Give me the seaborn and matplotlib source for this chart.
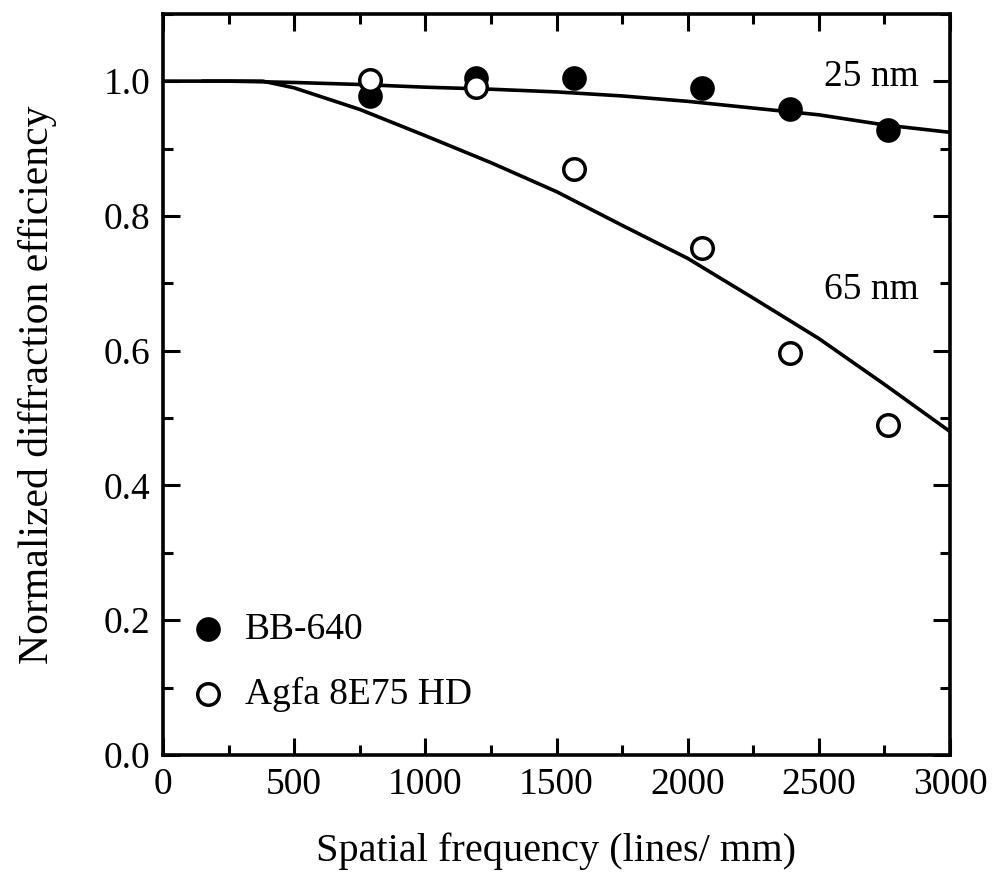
import matplotlib
matplotlib.use('Agg')
import matplotlib.pyplot as plt
import seaborn as sns
from matplotlib.ticker import MultipleLocator, FormatStrFormatter

# measured points
freq_pts = [790, 1195, 1565, 2055, 2390, 2765]
bb640 = [0.978, 1.005, 1.005, 0.990, 0.958, 0.927]
agfa = [1.001, 0.991, 0.869, 0.752, 0.596, 0.489]

# model curves
freq_25 = [0, 250, 500, 750, 1000, 1250, 1500, 1750, 2000, 2250, 2500, 2750, 3000]
eff_25 = [1.0, 1.0, 0.998, 0.995, 0.991, 0.988, 0.984, 0.978, 0.970, 0.960, 0.950, 0.935, 0.924]
freq_65 = [150, 250, 380, 500, 750, 1000, 1250, 1500, 1750, 2000, 2250, 2500, 2750, 3000]
eff_65 = [1.0, 1.0, 1.0, 0.99, 0.958, 0.919, 0.879, 0.836, 0.786, 0.737, 0.678, 0.618, 0.550, 0.480]

sns.set_style('ticks', rc={'axes.edgecolor': 'black', 'xtick.color': 'black',
                           'ytick.color': 'black', 'text.color': 'black',
                           'axes.labelcolor': 'black'})
plt.rcParams['font.family'] = ['Liberation Serif', 'DejaVu Serif']

fig = plt.figure(figsize=(10, 8.92), dpi=100)
ax = fig.add_axes([0.163, 0.1536, 0.787, 0.831])

sns.lineplot(x=freq_25, y=eff_25, ax=ax, color='black', lw=2.6)
sns.lineplot(x=freq_65, y=eff_65, ax=ax, color='black', lw=2.6)

sns.scatterplot(x=freq_pts, y=bb640, ax=ax, s=270, color='black',
                edgecolor='black', label='BB-640', zorder=3)
sns.scatterplot(x=freq_pts, y=agfa, ax=ax, s=240, facecolor='white',
                edgecolor='black', linewidth=2.5, label='Agfa 8E75 HD', zorder=3)

ax.text(2700, 1.007, '25 nm', fontsize=27, ha='center', va='center')
ax.text(2700, 0.69, '65 nm', fontsize=27, ha='center', va='center')

ax.set_xlim(0, 3000)
ax.set_ylim(0, 1.1)
ax.xaxis.set_major_locator(MultipleLocator(500))
ax.xaxis.set_minor_locator(MultipleLocator(250))
ax.yaxis.set_major_locator(MultipleLocator(0.2))
ax.yaxis.set_minor_locator(MultipleLocator(0.1))
ax.yaxis.set_major_formatter(FormatStrFormatter('%.1f'))
ax.tick_params(which='both', direction='in', top=True, right=True, width=2.2, labelsize=27)
ax.tick_params(which='major', length=12, pad=9)
ax.tick_params(which='minor', length=7)
for sp in ax.spines.values():
    sp.set_linewidth(2.6)
    sp.set_visible(True)

ax.set_xlabel('Spatial frequency (lines/ mm)', fontsize=29, labelpad=22)
ax.set_ylabel('Normalized diffraction efficiency', fontsize=30, labelpad=34)

ax.legend(loc='lower left', bbox_to_anchor=(0.010, 0.028), frameon=False,
          fontsize=27, handlelength=0.8, handletextpad=0.58, labelspacing=0.8,
          borderaxespad=0.2)

fig.savefig('out.png', dpi=100)
